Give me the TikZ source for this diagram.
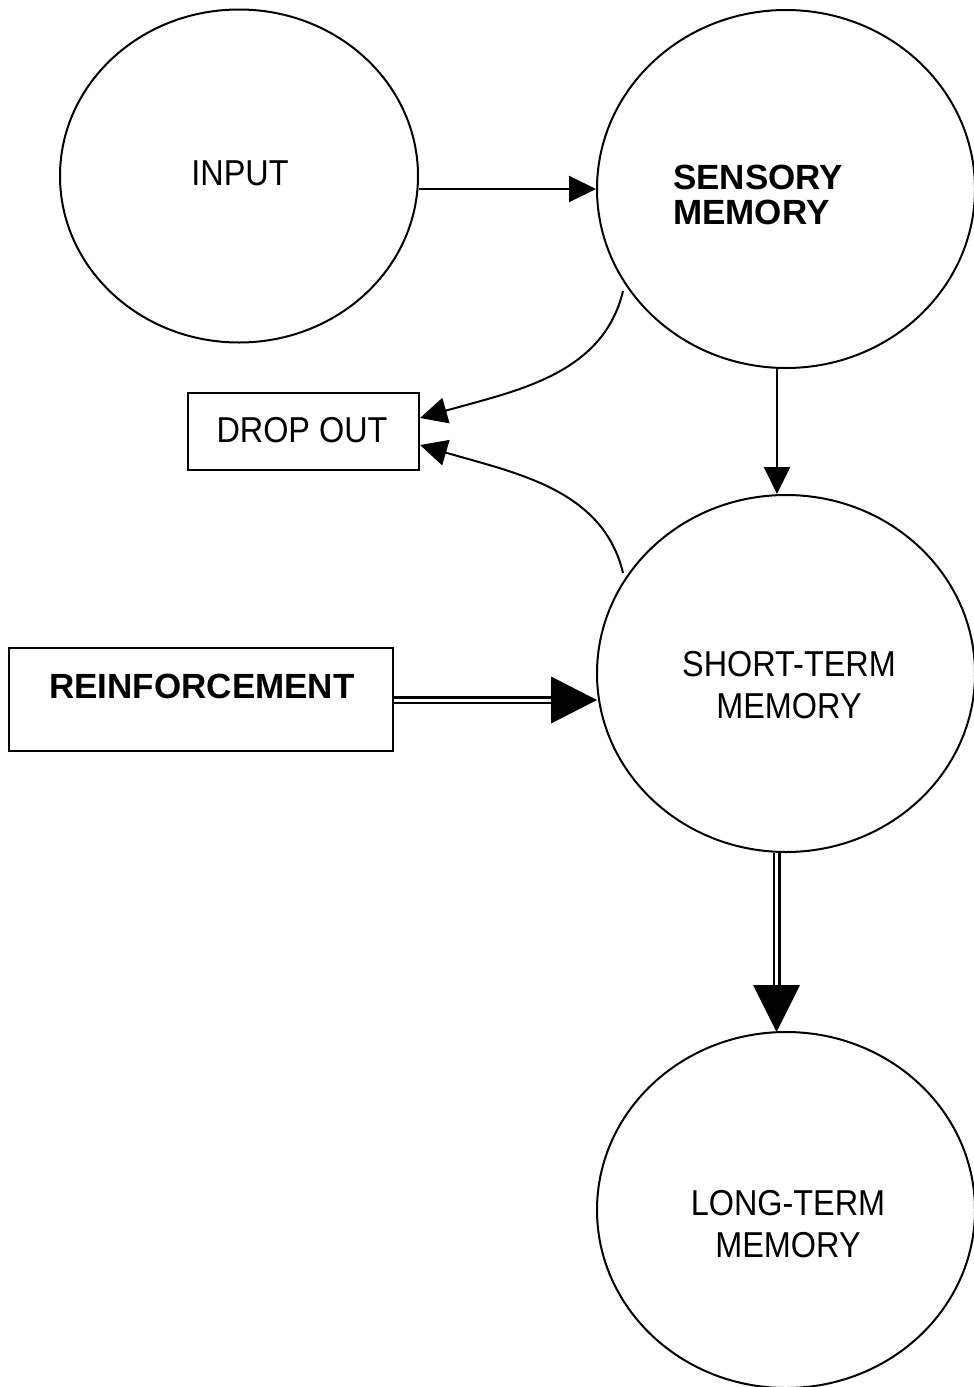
\documentclass[tikz,border=0pt]{standalone}
\usepackage{fontspec}
\setmainfont{Liberation Sans}
\newfontfamily\regf[FakeStretch=0.9]{Liberation Sans}
\usetikzlibrary{shapes.geometric,arrows.meta}
\begin{document}
\begin{tikzpicture}[x=1pt,y=-1pt,
  oval/.style={draw,ellipse,inner sep=0pt,line width=2pt},
  boxnode/.style={draw,rectangle,inner sep=0pt,line width=2pt},
  lbl/.style={font={\regf\fontsize{36}{42.5}\selectfont},align=center,inner sep=0pt},
  blbl/.style={font={\bfseries\fontsize{35}{35}\selectfont},align=left,inner sep=0pt},
  thinarrow/.style={line width=2pt,-{Triangle[length=27pt,width=26pt]}},
  dbl/.style={double,double distance=3pt,line width=2.5pt},
  bighead/.style={fill=black}
]
\useasboundingbox (0,0) rectangle (974,1387);

% shapes
\node[oval,minimum width=358pt,minimum height=333pt] (input) at (239,176) {};
\node[oval,minimum width=378pt,minimum height=358pt] (sens) at (786,189) {};
\node[oval,minimum width=378pt,minimum height=357pt] (stm) at (786,673.5) {};
\node[oval,minimum width=378pt,minimum height=356pt] (ltm) at (786,1210) {};
\node[boxnode,minimum width=231pt,minimum height=77pt] (drop) at (303.5,431.5) {};
\node[boxnode,minimum width=384pt,minimum height=103pt] (reinf) at (201,699.5) {};

% labels
\node[lbl] (tinput) at (240,173) {INPUT};
\node[blbl,anchor=west] (tsens) at (673,195) {SENSORY\\MEMORY};
\node[lbl] (tstm) at (789,685) {SHORT-TERM\\MEMORY};
\node[lbl] (tltm) at (788,1224) {LONG-TERM\\MEMORY};
\node[lbl] (tdrop) at (302,430) {DROP OUT};
\node[blbl] (treinf) at (202,686) {REINFORCEMENT};

% connector points
\coordinate (s1) at (623,291);
\coordinate (s2) at (623,573);
\coordinate (rbase) at (551,700);
\coordinate (rtip) at (597,700);
\coordinate (lbase) at (776.5,985);
\coordinate (ltip) at (776.5,1032);

% connectors
\draw[thinarrow] (input.east |- sens.west) -- (sens.west);
\draw[thinarrow] ([xshift=-9pt]sens.south) -- ([xshift=-9pt]stm.north);
\draw[thinarrow] (s1) .. controls (603,375) and (515,391) .. ([yshift=13.5pt]drop.east);
\draw[thinarrow] (s2) .. controls (603,489) and (515,473) .. ([yshift=-13.5pt]drop.east);

\draw[dbl] (reinf.east |- rbase) -- (rbase);
\fill[bighead] (rtip) -- ([yshift=23.5pt]rbase) -- ([yshift=-23.5pt]rbase) -- cycle;

\draw[dbl] ([xshift=-9.5pt]stm.south) -- (lbase);
\fill[bighead] (ltip) -- ([xshift=-23.5pt]lbase) -- ([xshift=23.5pt]lbase) -- cycle;
\end{tikzpicture}
\end{document}
